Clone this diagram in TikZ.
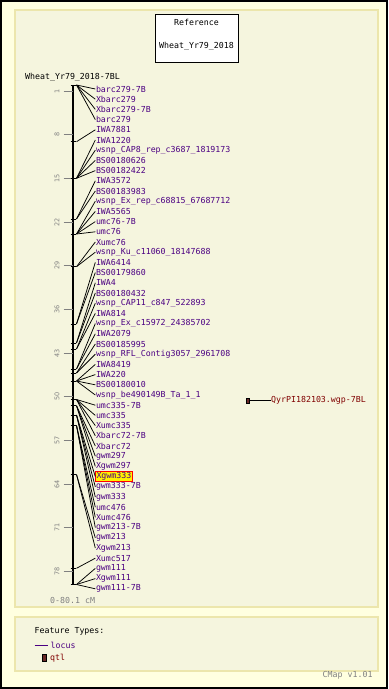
\documentclass[tikz,border=0pt]{standalone}
\usepackage{fontspec}
\newfontfamily\monof{DejaVu Sans Mono}
\newfontfamily\sansf{DejaVu Sans}
\definecolor{bgouter}{RGB}{255,255,224}
\definecolor{bginner}{RGB}{245,245,222}
\definecolor{panelborder}{RGB}{236,230,172}
\definecolor{locuscol}{RGB}{75,0,130}
\definecolor{qtlcol}{RGB}{128,0,0}
\definecolor{qtlfill}{RGB}{105,40,40}
\definecolor{scalecol}{RGB}{128,128,128}
\begin{document}
\begin{tikzpicture}[x=1bp,y=-1bp,
  txt/.style={font=\monof\fontsize{8.3}{9}\selectfont, inner sep=0.5bp},
  lbl/.style={txt, text=locuscol, anchor=west},
  hilite/.style={lbl, fill=yellow, draw=red, line width=0.8bp, inner sep=0.8bp},
  conn/.style={black, line width=0.75bp},
  mtick/.style={black, line width=0.9bp},
  stick/.style={scalecol, line width=0.9bp},
  snum/.style={font=\sansf\fontsize{6.5}{7}\selectfont, text=scalecol, rotate=90, inner sep=0},
  qtlbox/.style={draw=black, fill=qtlfill, line width=0.5bp, minimum width=3.5bp, minimum height=5.5bp, inner sep=0},
  panel/.style={draw=panelborder, fill=bginner, line width=1.2bp}]
\useasboundingbox (0,0) rectangle (388,689);
\fill[bgouter] (0,0) rectangle (388,689);
\draw[black, line width=2bp] (1,1) rectangle (387,688);
\draw[panel] (15,10) rectangle (378,607);
\draw[panel] (15,617) rectangle (378,671);

% reference box
\node[draw=black, fill=white, line width=0.8bp, minimum width=83bp, minimum height=48bp, inner sep=0] (refbox) at (196.5,38) {};
\node[txt] (reft) at (196.5,22) {Reference};
\node[txt] (refn) at (196.5,46) {Wheat\_Yr79\_2018};

% map title
\node[txt, anchor=west] (maptitle) at (24.5,77) {Wheat\_Yr79\_2018-7BL};

% axis
\coordinate (axtop) at (73.3,85);
\coordinate (axbot) at (73.3,584.5);
\draw[black, line width=2.2bp] (axtop) -- (axbot);

% scale ticks
\foreach \v in {1,8,15,22,29,36,43,50,57,64,71,78} {
  \pgfmathsetmacro{\yy}{84.8+6.24*\v}
  \coordinate (S\v a) at (63.5,\yy);
  \coordinate (S\v b) at (72.5,\yy);
  \draw[stick] (S\v a) -- (S\v b);
  \node[snum] (SN\v) at (57,\yy) {\v};
}
\node[txt, text=scalecol, anchor=west] (range) at (49.5,600.7) {0-80.1 cM};

% marker positions
\foreach \k/\yy in {0/85,1/141.7,2/178.3,3/219,4/234,5/266.7,6/324,7/343,8/349,9/369,10/373,11/381,12/399.5,13/405.7,14/415,15/425.5,16/474.5,17/568.3,18/584.5} {
  \coordinate (M\k) at (76.5,\yy);
  \draw[mtick] (70.7,\yy) -- (76,\yy);
}

% labels
\foreach \i/\t/\m in {
 0/barc279-7B/0, 1/Xbarc279/0, 2/Xbarc279-7B/0, 3/barc279/0,
 4/IWA7881/1,
 5/IWA1220/2, 6/wsnp\_CAP8\_rep\_c3687\_1819173/2, 7/BS00180626/2, 8/BS00182422/2,
 9/IWA3572/3, 10/BS00183983/3,
 11/wsnp\_Ex\_rep\_c68815\_67687712/4, 12/IWA5565/4, 13/umc76-7B/4, 14/umc76/4,
 15/Xumc76/5, 16/wsnp\_Ku\_c11060\_18147688/5,
 17/IWA6414/6, 18/BS00179860/6,
 19/IWA4/7, 20/BS00180432/7,
 21/wsnp\_CAP11\_c847\_522893/8, 22/IWA814/8,
 23/wsnp\_Ex\_c15972\_24385702/9, 24/IWA2079/9,
 25/BS00185995/10, 26/wsnp\_RFL\_Contig3057\_2961708/10,
 27/IWA8419/11, 28/IWA220/11, 29/BS00180010/11, 30/wsnp\_be490149B\_Ta\_1\_1/11,
 31/umc335-7B/12, 32/umc335/12, 33/Xumc335/12, 34/Xbarc72-7B/12,
 35/Xbarc72/13, 36/gwm297/13, 37/Xgwm297/13,
 39/gwm333-7B/14, 40/gwm333/14,
 41/umc476/15, 42/Xumc476/15, 43/gwm213-7B/15,
 44/gwm213/16, 45/Xgwm213/16,
 46/Xumc517/17,
 47/gwm111/18, 48/Xgwm111/18, 49/gwm111-7B/18} {
  \pgfmathsetmacro{\ly}{89+10.2*\i}
  \node[lbl] (L\i) at (95.3,\ly) {\t};
  \draw[conn] (M\m) -- (L\i.west);
}
\pgfmathsetmacro{\ly}{89+10.2*38}
\node[hilite] (L38) at (95.3,\ly) {Xgwm333};
\draw[conn] (M14) -- (L38.west);

% QTL
\node[qtlbox] (qtl) at (247.7,400.5) {};
\node[txt, text=qtlcol, anchor=west] (qtllbl) at (270.5,400.5) {QyrPI182103.wgp-7BL};
\draw[black, line width=0.8bp] (qtl.east) -- (qtllbl.west);

% legend
\node[txt, anchor=west] (ftitle) at (34,631.7) {Feature Types:};
\coordinate (lgA) at (34.5,645);
\coordinate (lgB) at (47.5,645);
\draw[locuscol, line width=0.9bp] (lgA) -- (lgB);
\node[lbl] (lglocus) at (50,645) {locus};
\node[qtlbox, minimum width=3.5bp, minimum height=7.5bp] (lgqbox) at (44,657.8) {};
\node[txt, text=qtlcol, anchor=west] (lgqtl) at (49.5,657.8) {qtl};
\node[txt, text=scalecol, anchor=west] (cmap) at (322,675.5) {CMap v1.01};
\end{tikzpicture}
\end{document}
